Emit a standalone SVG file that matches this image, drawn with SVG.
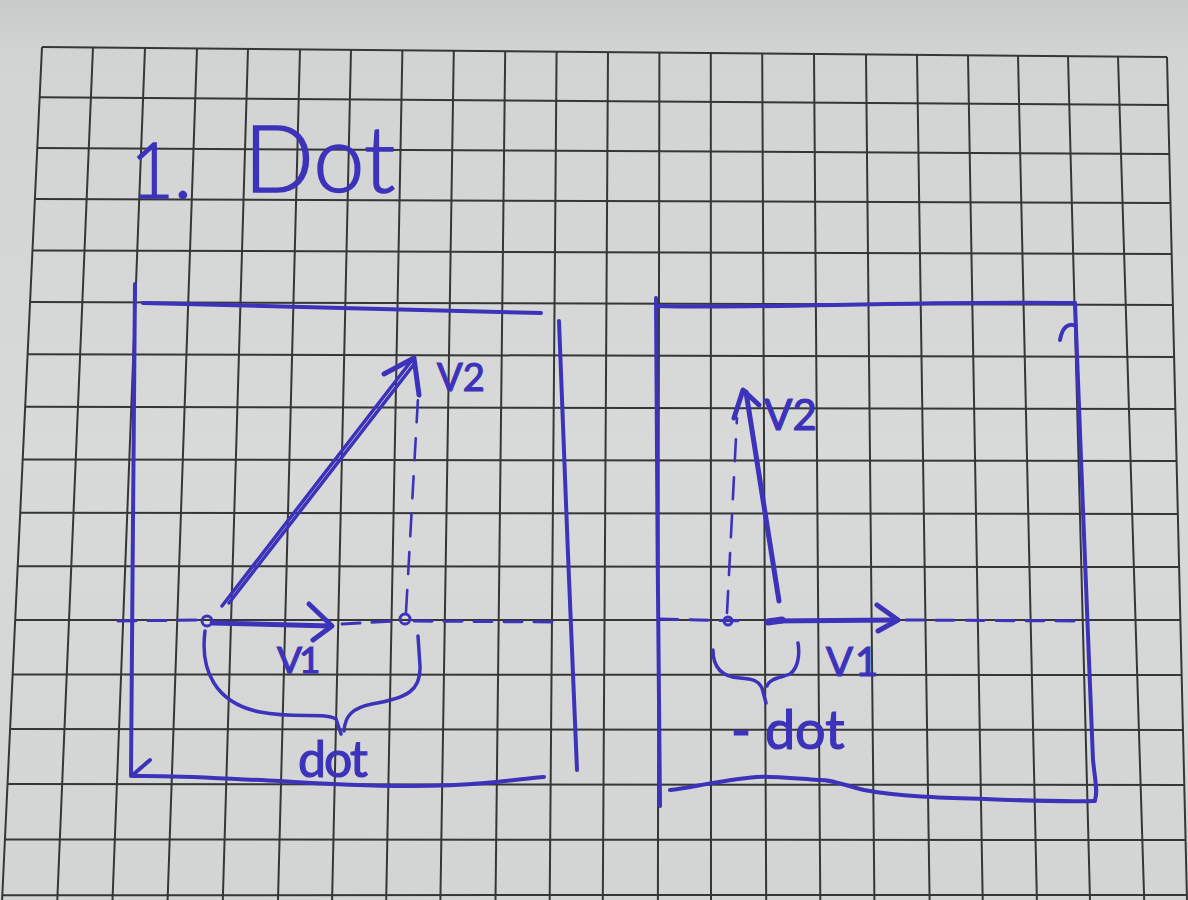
<svg xmlns="http://www.w3.org/2000/svg" width="1188" height="900" viewBox="0 0 1188 900">
<defs>
<linearGradient id="paper" x1="0" y1="0" x2="0" y2="1">
<stop offset="0" stop-color="#c9cbca"/>
<stop offset="0.06" stop-color="#d2d4d3"/>
<stop offset="0.5" stop-color="#d8dad9"/>
<stop offset="1" stop-color="#d3d5d4"/>
</linearGradient>
<style>
.grid{stroke:#353736;stroke-width:2;fill:none}
.ink{stroke:#3d33bb;fill:none;stroke-linecap:round;stroke-linejoin:round}
.box{stroke-width:4}
.vec{stroke-width:5}
.dash{stroke-width:3;stroke-dasharray:18 12}
.vdash{stroke-width:2.6;stroke-dasharray:22 16}
.txt{fill:#3d33bb;stroke:#3d33bb;stroke-width:1.2;font-family:Lato,"Liberation Sans",sans-serif;font-weight:400}
.ttl{fill:#3d33bb;stroke:#3d33bb;stroke-width:1.5;font-family:Lato,"Liberation Sans",sans-serif;font-weight:300}
</style>
</defs>
<rect x="0" y="0" width="1188" height="900" fill="url(#paper)"/>
<g id="grid" class="grid">
<path d="M42,47 L1167,57"/>
<path d="M39.6,97.3 L1168.1,105 M37.3,148 L1169.3,154 M34.9,199 L1170.5,203 M32.5,250.4 L1171.7,254 M30.1,302.1 L1172.9,305 M27.6,354.2 L1174.1,357 M25.2,406.7 L1175.4,409 M22.7,459.5 L1176.6,461 M20.2,512.7 L1177.8,514 M17.7,566.2 L1179.1,567 M15.2,620.1 L1180.4,620 M12.7,674.4 L1181.7,675 M10.1,729.1 L1183,730 M7.6,784.1 L1184.3,785 M5,839.5 L1185.6,840 M2.4,895.2 L1186.9,895"/>
<path d="M42,47 L2.1,900 M93,47.5 L57.3,900 M145,47.9 L112.5,900 M197,48.4 L167.6,900 M248,48.8 L222.8,900 M300,49.3 L278,900 M351,49.7 L332.1,900 M402.4,50.2 L386.2,900 M453.8,50.6 L440.4,900 M505.2,51.1 L495.5,900 M556.6,51.5 L549.7,900 M608,52 L602.8,900 M659.4,52.4 L657.9,900 M710.8,52.9 L711,900 M762.2,53.3 L766.2,900 M814,53.8 L820.3,900 M866,54.2 L874.4,900 M917,54.7 L929.6,900 M968,55.1 L982.7,900 M1018,55.6 L1036.9,900 M1068,56 L1090,900 M1118,56.5 L1144.2,900 M1167,57 L1187,900"/>
</g>
<g id="title">
<text class="ttl" x="130" y="198" font-size="76">1.</text>
<text class="ttl" x="244" y="192" font-size="92">Dot</text>
</g>
<g id="left-panel">
<g id="left-frame" class="ink box">
<path d="M143,303 C260,306 420,310 541,313"/>
<path d="M135,284 C134,420 132,620 131,776"/>
<path d="M150,760 L135,773"/>
<path d="M133,776 C180,775 227,779 280,781 C340,785 420,789 485,783 C510,781 530,778 544,777"/>
<path d="M559,321 C564,450 571,640 577,770"/>
</g>
<g id="left-axis" class="ink">
<path class="dash" d="M118,621 L198,620"/>
<path class="dash" d="M342,624 L396,621"/>
<path class="dash" d="M414,621 L552,622"/>
<circle cx="207" cy="621" r="5" stroke-width="3"/>
<circle cx="405" cy="619" r="5" stroke-width="3"/>
<path class="vdash" d="M406,612 L418,398"/>
</g>
<g id="left-v1" class="ink vec">
<path d="M212,623 L331,626"/>
<path d="M309,604 L332,626 L313,640"/>
</g>
<g id="left-v2" class="ink">
<path stroke-width="3.5" d="M222,606 L412,360"/>
<path stroke-width="3.5" d="M229,603 L415,363"/>
<path stroke-width="5" d="M384,374 L414,358 L419,395"/>
</g>
<path id="left-brace" class="ink" stroke-width="3.5" d="M205,631 C200,670 215,703 260,712 C295,719 325,712 336,719 L341,734 M344,731 C345,716 352,708 372,704 C408,698 421,690 420,666 L418,636"/>
<text class="txt" x="437" y="391" font-size="38">V2</text>
<text class="txt" x="277" y="673" font-size="37" letter-spacing="-3">V1</text>
<text class="txt" x="298" y="777" font-size="50" letter-spacing="-2">dot</text>
</g>
<g id="right-panel">
<g id="right-frame" class="ink box">
<path d="M656,298 C657,450 658,650 660,806"/>
<path d="M657,306 C760,309 900,301 1075,303"/>
<path d="M1060,340 C1062,328 1068,322 1076,326"/>
<path d="M1075,303 C1080,450 1088,620 1093,760 C1095,780 1098,792 1095,800"/>
<path d="M1095,801 C1060,802 1010,800 985,799 C950,798 900,797 864,790 C840,784 830,779 818,780 C790,778 770,776 757,777 C720,780 690,788 670,790"/>
</g>
<g id="right-axis" class="ink">
<path class="dash" d="M660,619 L745,621"/>
<path class="dash" stroke-dasharray="22 14" d="M906,620 L1078,621"/>
<circle cx="728" cy="621" r="4" stroke-width="3"/>
<path class="vdash" d="M727,613 L737,418"/>
</g>
<g id="right-v1" class="ink vec">
<path d="M770,621 L897,620"/>
<path d="M877,605 L898,620 L878,631"/>
<path stroke-width="7" d="M768,622 L782,620"/>
</g>
<g id="right-v2" class="ink">
<path stroke-width="5" d="M779,601 L746,392"/>
<path stroke-width="5" d="M734,418 L743,390 L759,405"/>
</g>
<path id="right-brace" class="ink" stroke-width="3.5" d="M713,650 C713,668 722,677 740,678 C752,679 758,680 762,688 L766,703 M767,686 C770,678 780,678 790,674 C798,668 800,655 798,643"/>
<text class="txt" x="764" y="430" font-size="42">V2</text>
<text class="txt" x="826" y="676" font-size="40" letter-spacing="2">V1</text>
<text class="txt" x="731" y="749" font-size="54">- dot</text>
</g>
</svg>
